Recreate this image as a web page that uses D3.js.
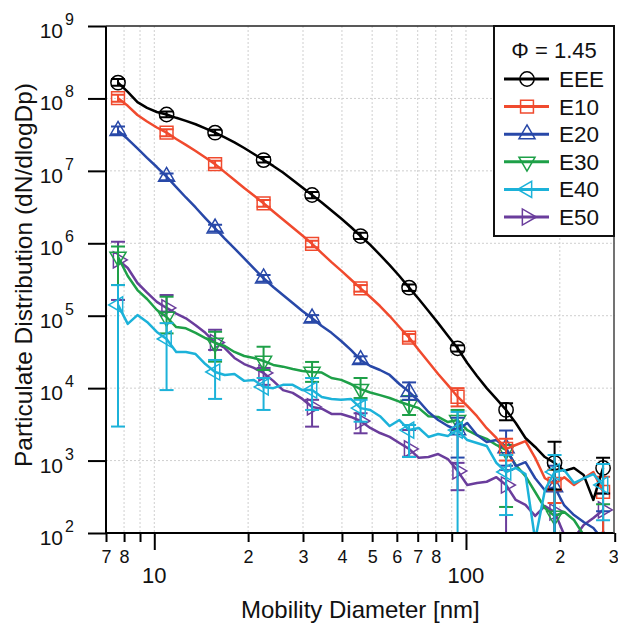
<!DOCTYPE html>
<html>
<head>
<meta charset="utf-8">
<script src="https://cdn.jsdelivr.net/npm/d3@7"></script>
<style>
  body { margin: 0; background: #fff; }
  text { font-family: "Liberation Sans", Arial, sans-serif; fill: #111; }
</style>
</head>
<body>
<svg id="chart"></svg>
<script>
// Canvas size
const width = 618, height = 625;

// Mobility diameters [nm] of the size bins
const diameters = [7.65, 8.22, 8.83, 9.48, 10.19, 10.95, 11.76, 12.63, 13.57, 14.58,
  15.67, 16.83, 18.08, 19.43, 20.87, 22.42, 24.08, 25.87, 27.80, 29.86,
  32.08, 34.46, 37.02, 39.77, 42.73, 45.90, 49.31, 52.98, 56.91, 61.14,
  65.68, 70.56, 75.80, 81.43, 87.48, 93.98, 100.96, 108.46, 116.52, 125.17,
  134.47, 144.46, 155.19, 166.72, 179.10, 192.41, 206.70, 222.06, 238.55, 256.27,
  275.31];

// dN/dlogDp for each fuel
const EEE = [1.65e8, 1.23e8, 8.9e7, 7.4e7, 6.5e7, 6.0e7, 5.4e7, 4.9e7, 4.4e7, 3.85e7,
  3.37e7, 2.89e7, 2.47e7, 2.07e7, 1.71e7, 1.41e7, 1.17e7, 9.5e6, 7.5e6, 5.9e6,
  4.64e6, 3.66e6, 2.84e6, 2.2e6, 1.68e6, 1.26e6, 9.5e5, 6.9e5, 5.0e5, 3.53e5,
  2.44e5, 1.7e5, 1.16e5, 7.9e4, 5.3e4, 3.55e4, 2.22e4, 1.47e4, 1.0e4, 7.1e3,
  5.0e3, 3.3e3, 2.05e3, 1.54e3, 1.12e3, 9.3e2, 7.2e2, 7.9e2, 6.3e2, 2.86e2,
  7.9e2];
const E10 = [1.01e8, 7.9e7, 5.9e7, 4.8e7, 3.97e7, 3.37e7, 2.75e7, 2.28e7, 1.88e7, 1.53e7,
  1.24e7, 9.6e6, 7.5e6, 5.8e6, 4.57e6, 3.56e6, 2.75e6, 2.13e6, 1.65e6, 1.28e6,
  9.8e5, 7.3e5, 5.5e5, 4.2e5, 3.16e5, 2.39e5, 1.81e5, 1.36e5, 9.9e4, 6.98e4,
  4.98e4, 3.37e4, 2.3e4, 1.57e4, 1.1e4, 7.6e3, 5.7e3, 4.1e3, 2.8e3, 2.05e3,
  1.45e3, 1.64e3, 1.86e3, 1.09e3, 5.7e2, 4.75e2, 5.9e2, 4.6e2, 5.7e2, 6.95e2,
  3.7e2];
const E20 = [3.58e7, 2.75e7, 2.04e7, 1.51e7, 1.13e7, 8.3e6, 5.98e6, 4.29e6, 3.12e6, 2.23e6,
  1.61e6, 1.16e6, 8.5e5, 6.2e5, 4.5e5, 3.29e5, 2.49e5, 1.93e5, 1.5e5, 1.16e5,
  9.2e4, 7.2e4, 5.8e4, 4.48e4, 3.37e4, 2.45e4, 2.02e4, 1.78e4, 1.52e4, 1.14e4,
  8.9e3, 6.65e3, 4.69e3, 3.63e3, 3.0e3, 2.64e3, 3.3e3, 2.25e3, 1.81e3, 1.92e3,
  1.49e3, 8.4e2, 9.5e2, 5.7e2, 3.9e2, 4.3e2, 2.4e2, 1.77e2, 1.42e2, 1.17e2,
  80];
const E30 = [6.5e5, 3.53e5, 2.26e5, 1.7e5, 1.2e5, 9.6e4, 6.98e4, 6.7e4, 5.8e4, 4.92e4,
  4.2e4, 3.82e4, 3.16e4, 2.78e4, 2.61e4, 2.37e4, 2.09e4, 1.98e4, 1.84e4, 1.73e4,
  1.67e4, 1.64e4, 1.38e4, 1.3e4, 1.14e4, 9.7e3, 8.7e3, 8.0e3, 7.3e3, 6.5e3,
  5.85e3, 5.3e3, 4.1e3, 4.0e3, 3.4e3, 3.63e3, 2.64e3, 2.25e3, 1.99e3, 1.64e3,
  1.4e3, 8.7e2, 6.1e2, 3.68e2, 2.21e2, 1.72e2, 1.95e2, 1.51e2, 94, 80,
  80];
const E40 = [1.41e5, 7.7e4, 1.02e5, 8.2e4, 5.96e4, 4.77e4, 3.16e4, 3.16e4, 2.96e4, 2.15e4,
  1.67e4, 1.52e4, 1.57e4, 1.26e4, 1.3e4, 1.04e4, 1.0e4, 1.11e4, 1.11e4, 9.4e3,
  9.4e3, 7.55e3, 7.1e3, 6.9e3, 7.1e3, 5.3e3, 5.0e3, 4.1e3, 3.0e3, 3.63e3,
  2.64e3, 2.82e3, 2.12e3, 2.33e3, 2.18e3, 2.64e3, 1.92e3, 1.75e3, 1.59e3, 9.3e2,
  6.95e2, 7.9e2, 6.5e2, 80, 3.9e2, 6.95e2, 7.4e2, 4.9e2, 5.7e2, 6.5e2,
  4.6e2];
const E50 = [5.9e5, 4.56e5, 2.83e5, 2.09e5, 1.55e5, 1.28e5, 1.07e5, 9.2e4, 7.4e4, 5.8e4,
  4.27e4, 3.58e4, 2.61e4, 2.15e4, 1.9e4, 1.62e4, 1.26e4, 9.4e3, 8.6e3, 7.1e3,
  5.5e3, 5.2e3, 4.4e3, 4.4e3, 4.0e3, 3.52e3, 2.82e3, 2.4e3, 2.12e3, 1.75e3,
  1.45e3, 1.09e3, 1.12e3, 1.23e3, 1.05e3, 7.2e2, 4.6e2, 4.9e2, 5.1e2, 5.9e2,
  4.6e2, 2.86e2, 2.44e2, 1.72e2, 2.36e2, 1.95e2, 94, 85, 1.29e2, 1.61e2,
  2.08e2];

// bins that carry a marker + error bar
const markerIdx = [0, 5, 10, 15, 20, 25, 30, 35, 40, 45, 50];

// error bar limits at the marker bins
const EEE_lo = [1.5e8, 5.5e7, 3.1e7, 1.3e7, 4.2e6, 1.15e6, 2.2e5, 3.2e4, 3.6e3, 4.0e2, 3.5e2];
const EEE_hi = [1.85e8, 6.6e7, 3.7e7, 1.55e7, 5.1e6, 1.4e6, 2.7e5, 3.9e4, 6.2e3, 1.82e3, 1.09e3];
const E10_lo = [9.0e7, 3.0e7, 1.1e7, 3.2e6, 8.8e5, 2.15e5, 4.4e4, 5.6e3, 1.0e3, 2.6e2, 50];
const E10_hi = [1.12e8, 3.75e7, 1.38e7, 3.95e6, 1.08e6, 2.65e5, 5.6e4, 1.0e4, 2.0e3, 7.5e2, 6.0e2];
const E20_lo = [3.2e7, 7.4e6, 1.45e6, 2.95e5, 8.2e4, 2.2e4, 6.9e3, 1.1e3, 8.5e2, 50, 20];
const E20_hi = [4.1e7, 9.2e6, 1.8e6, 3.65e5, 1.02e5, 2.75e4, 1.2e4, 3.9e3, 2.6e3, 8.5e2, 2.0e2];
const E30_lo = [2.65e5, 5.7e4, 2.32e4, 1.78e4, 1.22e4, 7.3e3, 4.26e3, 2.64e3, 2.29e2, 94, 30];
const E30_hi = [9.0e5, 1.83e5, 6.0e4, 3.73e4, 2.3e4, 1.38e4, 7.8e3, 5.0e3, 1.64e3, 7.4e2, 2.5e2];
const E40_lo = [2.95e3, 9.4e3, 7.1e3, 5.0e3, 5.0e3, 3.44e3, 1.12e3, 30, 1.77e2, 30, 1.5e2];
const E40_hi = [2.65e5, 7.9e4, 2.45e4, 1.38e4, 1.38e4, 6.9e3, 3.1e3, 4.7e3, 1.19e3, 1.19e3, 9.0e2];
const E50_lo = [1.65e5, 1.14e5, 3.37e4, 1.11e4, 2.94e3, 2.38e3, 1.13e3, 3.9e2, 50, 40, 60];
const E50_hi = [1.05e6, 1.93e5, 6.4e4, 1.9e4, 6.9e3, 4.5e3, 2.64e3, 9.3e2, 7.4e2, 3.9e2, 3.5e2];

// axis ticks
const xTicks = [7, 8, 9, 10, 20, 30, 40, 50, 60, 70, 80, 90, 100, 200, 300];
const xTickText = ["7", "8", "", "", "2", "3", "4", "5", "6", "7", "8", "", "", "2", "3"];
const xMajor = [10, 100];
const yTicks = [1e2, 1e3, 1e4, 1e5, 1e6, 1e7, 1e8, 1e9];
const yExp = ["2", "3", "4", "5", "6", "7", "8", "9"];

const series = [
  { name: "EEE", values: EEE, lo: EEE_lo, hi: EEE_hi, color: "#000000", shape: "circle" },
  { name: "E10", values: E10, lo: E10_lo, hi: E10_hi, color: "#f04a2e", shape: "square" },
  { name: "E20", values: E20, lo: E20_lo, hi: E20_hi, color: "#2848a8", shape: "up" },
  { name: "E30", values: E30, lo: E30_lo, hi: E30_hi, color: "#1ea048", shape: "down" },
  { name: "E40", values: E40, lo: E40_lo, hi: E40_hi, color: "#1cb2d9", shape: "left" },
  { name: "E50", values: E50, lo: E50_lo, hi: E50_hi, color: "#6a3d9c", shape: "right" }
];
const drawOrder = ["E50", "E30", "E20", "E10", "EEE", "E40"];

// plot box
const plotLeft = 106, plotRight = 614.7, plotTop = 26, plotBottom = 533;

const svg = d3.select("#chart").attr("width", width).attr("height", height);

const x = d3.scaleLog().domain([7, 300]).range([plotLeft, plotRight]);
const y = d3.scaleLog().domain([1e2, 1e9]).range([plotBottom, plotTop]);

svg.append("defs").append("clipPath").attr("id", "plotClip")
  .append("rect")
  .attr("x", plotLeft).attr("y", plotTop)
  .attr("width", plotRight - plotLeft).attr("height", plotBottom - plotTop);

// grid
const grid = svg.append("g").attr("stroke", "#cfcfcf").attr("stroke-dasharray", "2,2");
grid.selectAll("line.gx")
  .data(xTicks.slice(1, -1))
  .join("line")
  .attr("x1", d => x(d)).attr("x2", d => x(d))
  .attr("y1", plotTop).attr("y2", plotBottom);
grid.selectAll("line.gy")
  .data(yTicks.slice(1, -1))
  .join("line")
  .attr("x1", plotLeft).attr("x2", plotRight)
  .attr("y1", d => y(d)).attr("y2", d => y(d));

// symbol path for a marker shape
function markerPath(shape) {
  if (shape === "circle") return d3.symbol(d3.symbolCircle, 160)();
  if (shape === "square") return d3.symbol(d3.symbolSquare, 165)();
  return d3.symbol(d3.symbolTriangle, 112)();
}
function markerRotate(shape) {
  return { up: 0, down: 180, left: -90, right: 90 }[shape] || 0;
}

const line = d3.line()
  .x(d => x(d[0]))
  .y(d => y(d[1]));

const plot = svg.append("g").attr("clip-path", "url(#plotClip)");

drawOrder.forEach(name => {
  const s = series.find(d => d.name === name);
  const pts = diameters.map((dp, i) => [dp, s.values[i]]);
  const g = plot.append("g");

  g.append("path")
    .datum(pts)
    .attr("d", line)
    .attr("fill", "none")
    .attr("stroke", s.color)
    .attr("stroke-width", 2.5)
    .attr("stroke-linejoin", "round");

  const marks = markerIdx.map((idx, k) => ({
    dp: diameters[idx], v: s.values[idx], lo: s.lo[k], hi: s.hi[k]
  }));

  // error bars
  const eb = g.append("g").attr("stroke", s.color).attr("stroke-width", 2);
  eb.selectAll("line.v").data(marks).join("line")
    .attr("x1", d => x(d.dp)).attr("x2", d => x(d.dp))
    .attr("y1", d => y(d.lo)).attr("y2", d => y(d.hi));
  eb.selectAll("line.lo").data(marks).join("line")
    .attr("x1", d => x(d.dp) - 7).attr("x2", d => x(d.dp) + 7)
    .attr("y1", d => y(d.lo)).attr("y2", d => y(d.lo));
  eb.selectAll("line.hi").data(marks).join("line")
    .attr("x1", d => x(d.dp) - 7).attr("x2", d => x(d.dp) + 7)
    .attr("y1", d => y(d.hi)).attr("y2", d => y(d.hi));

  // markers
  g.selectAll("path.m").data(marks).join("path")
    .attr("d", markerPath(s.shape))
    .attr("transform", d => `translate(${x(d.dp)},${y(d.v)}) rotate(${markerRotate(s.shape)})`)
    .attr("fill", "none")
    .attr("stroke", s.color)
    .attr("stroke-width", 1.5);
});

// x axis
const xAxis = svg.append("g")
  .attr("transform", `translate(0,${plotBottom})`)
  .call(d3.axisBottom(x)
    .tickValues(xTicks)
    .tickSize(9)
    .tickPadding(8)
    .tickFormat((d, i) => xTickText[i]));
xAxis.select(".domain").remove();
xAxis.selectAll(".tick line")
  .attr("stroke", "#000").attr("stroke-width", 2)
  .attr("y2", d => xMajor.includes(d) ? 17 : 9);
xAxis.selectAll(".tick text").attr("font-size", 18).attr("fill", "#111");
// keep the last label inside the canvas
xAxis.selectAll(".tick text").filter(d => d === 300)
  .attr("text-anchor", "end").attr("x", 3.5);

svg.append("g").selectAll("text")
  .data(xMajor)
  .join("text")
  .attr("x", d => x(d))
  .attr("y", 583)
  .attr("text-anchor", "middle")
  .attr("font-size", 22)
  .text(d => d);

// y axis
const yAxis = svg.append("g")
  .attr("transform", `translate(${plotLeft},0)`)
  .call(d3.axisLeft(y).tickValues(yTicks).tickSize(18).tickFormat(""));
yAxis.select(".domain").remove();
yAxis.selectAll(".tick line").attr("stroke", "#000").attr("stroke-width", 2);

const yLab = svg.append("g");
yLab.selectAll("text.base").data(yTicks).join("text")
  .attr("x", 63).attr("y", d => y(d) + 12)
  .attr("text-anchor", "end")
  .attr("font-size", 21)
  .text("10");
yLab.selectAll("text.exp").data(yTicks).join("text")
  .attr("x", 65).attr("y", (d) => y(d) - 1)
  .attr("font-size", 16)
  .text((d, i) => yExp[i]);

// frame
svg.append("line").attr("x1", plotLeft).attr("x2", plotLeft).attr("y1", plotTop).attr("y2", plotBottom)
  .attr("stroke", "#000").attr("stroke-width", 2);
svg.append("line").attr("x1", plotLeft - 1).attr("x2", plotRight).attr("y1", plotBottom).attr("y2", plotBottom)
  .attr("stroke", "#000").attr("stroke-width", 2);
svg.append("line").attr("x1", plotLeft).attr("x2", 494).attr("y1", plotTop).attr("y2", plotTop)
  .attr("stroke", "#222").attr("stroke-width", 1.5);
svg.append("line").attr("x1", 614).attr("x2", 614).attr("y1", 236).attr("y2", plotBottom)
  .attr("stroke", "#444").attr("stroke-width", 1.5);

// axis titles
svg.append("text")
  .attr("x", (plotLeft + plotRight) / 2)
  .attr("y", 618)
  .attr("text-anchor", "middle")
  .attr("font-size", 24)
  .text("Mobility Diameter [nm]");
svg.append("text")
  .attr("transform", "translate(32,275) rotate(-90)")
  .attr("text-anchor", "middle")
  .attr("font-size", 24.5)
  .text("Particulate Distribution (dN/dlogDp)");

// legend
const legend = svg.append("g");
legend.append("rect")
  .attr("x", 494).attr("y", 26).attr("width", 120).attr("height", 210)
  .attr("fill", "#fff").attr("stroke", "#111").attr("stroke-width", 2);
legend.append("text")
  .attr("x", 554).attr("y", 58)
  .attr("text-anchor", "middle")
  .attr("font-size", 22)
  .text("Φ = 1.45");
const items = legend.selectAll("g.item")
  .data(series)
  .join("g")
  .attr("transform", (d, i) => `translate(0,${79 + i * 27.6})`);
items.append("line")
  .attr("x1", 504).attr("x2", 549).attr("y1", 0).attr("y2", 0)
  .attr("stroke", d => d.color).attr("stroke-width", 3);
items.append("path")
  .attr("d", d => markerPath(d.shape))
  .attr("transform", d => `translate(527,0) rotate(${markerRotate(d.shape)})`)
  .attr("fill", "none")
  .attr("stroke", d => d.color)
  .attr("stroke-width", 1.5);
items.append("text")
  .attr("x", 559).attr("y", 8)
  .attr("font-size", 22.5)
  .text(d => d.name);
</script>
</body>
</html>
